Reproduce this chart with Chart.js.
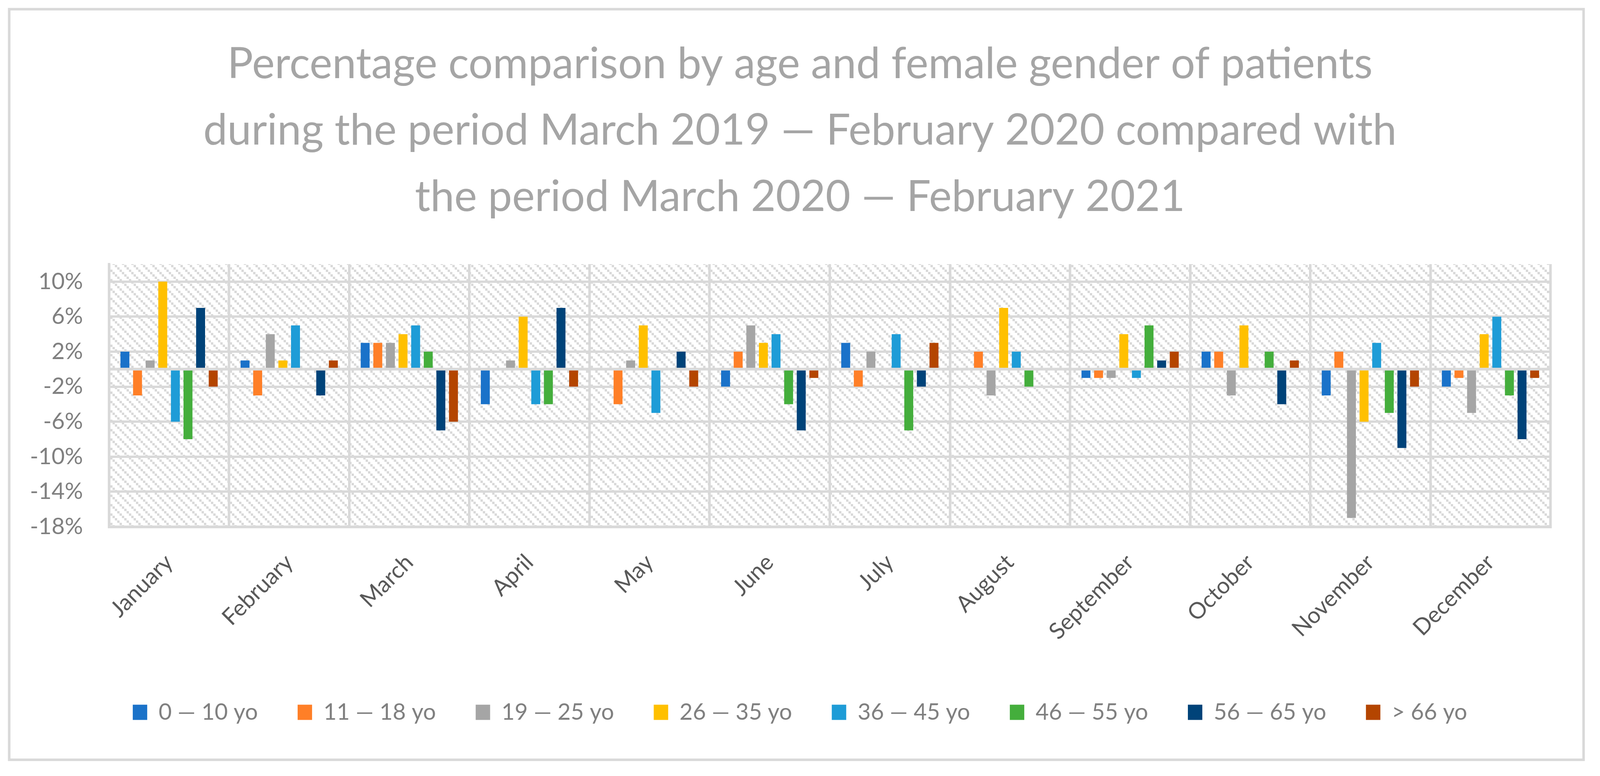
<!DOCTYPE html>
<html>
<head>
<meta charset="utf-8">
<script src="https://cdn.jsdelivr.net/npm/chart.js@4"></script>
<style>
  html, body { margin: 0; padding: 0; background: #fff; overflow: hidden; }
  #wrap { width: 100vw; height: 100vh; position: relative; }
  canvas { display: block; }
</style>
</head>
<body>
<div id="wrap"><canvas id="barChart"></canvas></div>
<script>
// Categories and series (percent)
const months = ["January", "February", "March", "April", "May", "June",
  "July", "August", "September", "October", "November", "December"];
const ageGroups = ["0 — 10 yo", "11 — 18 yo", "19 — 25 yo", "26 — 35 yo",
  "36 — 45 yo", "46 — 55 yo", "56 — 65 yo", "> 66 yo"];

const age0to10  = [2, 1, 3, -4, 0, -2, 3, 0, -1, 2, -3, -2];
const age11to18 = [-3, -3, 3, 0, -4, 2, -2, 2, -1, 2, 2, -1];
const age19to25 = [1, 4, 3, 1, 1, 5, 2, -3, -1, -3, -17, -5];
const age26to35 = [10, 1, 4, 6, 5, 3, 0, 7, 4, 5, -6, 4];
const age36to45 = [-6, 5, 5, -4, -5, 4, 4, 2, -1, 0, 3, 6];
const age46to55 = [-8, 0, 2, -4, 0, -4, -7, -2, 5, 2, -5, -3];
const age56to65 = [7, -3, -7, 7, 2, -7, -2, 0, 1, -4, -9, -8];
const age66plus = [-2, 1, -6, -2, -2, -1, 3, 0, 2, 1, -2, -1];

const yTicks = [-18, -14, -10, -6, -2, 0, 2, 6, 10];

const seriesValues = [age0to10, age11to18, age19to25, age26to35,
  age36to45, age46to55, age56to65, age66plus];
const seriesColors = ["#1a72c9", "#ff7f27", "#a5a5a5", "#ffc000",
  "#1e9cd7", "#44ae3c", "#004379", "#b44500"];

const FONT = "Lato, 'Open Sans', sans-serif";
const GRID = "#d9d9d9";

// layout was measured on a 4433x1986 picture, scale it to the real viewport
const W = window.innerWidth, H = window.innerHeight;
const kx = W / 4433, ky = H / 1986;
const px = (v) => v * kx;
const py = (v) => v * ky;

const legendFont = px(63), legendPad = px(110);
const legendTop = py(1823) - legendFont / 2 - legendPad;

// diagonal hatch used as plot background
function makeHatch(ctx) {
  const s = Math.max(1, Math.round(px(6)));
  const c = document.createElement("canvas");
  c.width = s * 4; c.height = s * 4;
  const g = c.getContext("2d");
  g.fillStyle = "#ffffff";
  g.fillRect(0, 0, c.width, c.height);
  g.fillStyle = GRID;
  for (let i = 0; i < 4; i++) g.fillRect(i * s, i * s, s, s);
  return ctx.createPattern(c, "repeat");
}

const backdrop = {
  id: "backdrop",
  beforeDraw(chart) {
    const { ctx, chartArea: a } = chart;
    ctx.save();
    ctx.fillStyle = "#ffffff";
    ctx.fillRect(0, 0, chart.width, chart.height);
    ctx.strokeStyle = GRID;
    ctx.lineWidth = px(7);
    ctx.strokeRect(px(25.5), py(23.5), px(4362), py(1921));
    ctx.fillStyle = makeHatch(ctx);
    ctx.fillRect(a.left, a.top, a.right - a.left, a.bottom - a.top);
    ctx.restore();
  }
};

// the zero axis line sits on top of the bars
const zeroLine = {
  id: "zeroLine",
  afterDatasetsDraw(chart) {
    const { ctx, chartArea: a, scales } = chart;
    const y = scales.y.getPixelForValue(0);
    ctx.save();
    ctx.strokeStyle = GRID;
    ctx.lineWidth = py(7);
    ctx.beginPath();
    ctx.moveTo(a.left, y);
    ctx.lineTo(a.right, y);
    ctx.stroke();
    ctx.restore();
  }
};

const data = {
  labels: months,
  datasets: ageGroups.map((name, i) => ({
    label: name,
    data: seriesValues[i],
    backgroundColor: seriesColors[i],
    borderWidth: 0,
    yAxisID: "y",
    categoryPercentage: 0.84,
    barPercentage: 0.71
  }))
};

const config = {
  type: "bar",
  data: data,
  plugins: [backdrop, zeroLine],
  options: {
    responsive: true,
    maintainAspectRatio: false,
    animation: false,
    layout: {
      padding: {
        left: px(30), right: px(30), top: py(30),
        bottom: H - (legendTop + legendPad + legendFont + 10)
      }
    },
    plugins: {
      title: {
        display: true,
        text: [
          "Percentage comparison by age and female gender of patients",
          "during the period March 2019 — February 2020 compared with",
          "the period March 2020 — February 2021"
        ],
        color: "#a5a5a5",
        font: { family: FONT, size: px(119), weight: "normal", lineHeight: py(170) + "px" },
        padding: { top: py(50), bottom: py(86) }
      },
      legend: {
        position: "bottom",
        labels: {
          color: "#808080",
          font: { family: FONT, size: legendFont },
          boxWidth: px(40),
          boxHeight: px(42),
          padding: legendPad
        }
      },
      tooltip: { enabled: false }
    },
    scales: {
      x: {
        grid: { color: GRID, lineWidth: px(7), offset: true, drawTicks: false },
        border: { color: GRID, width: py(7) },
        ticks: {
          color: "#595959",
          font: { family: FONT, size: px(63) },
          minRotation: 45,
          maxRotation: 45,
          autoSkip: false,
          padding: py(57)
        },
        afterFit(scale) { scale.height = legendTop - py(1348); }
      },
      y: {
        min: -18,
        max: 12,
        grid: { color: GRID, lineWidth: py(6), drawTicks: false },
        border: { color: GRID, width: px(7) },
        ticks: {
          color: "#808080",
          font: { family: FONT, size: px(63) },
          padding: px(72),
          callback: (v) => (v === 0 ? "" : v + "%")
        },
        afterBuildTicks(scale) {
          scale.ticks = yTicks.map((v) => ({ value: v }));
        },
        afterFit(scale) { scale.width = px(272); }
      },
      // empty right-hand axis, only keeps the plot clear of the right border
      yRight: {
        position: "right",
        grid: { display: false },
        border: { display: false },
        ticks: { display: false },
        afterFit(scale) { scale.width = px(107); }
      }
    }
  }
};

const barChart = new Chart(document.getElementById("barChart"), config);
</script>
</body>
</html>
